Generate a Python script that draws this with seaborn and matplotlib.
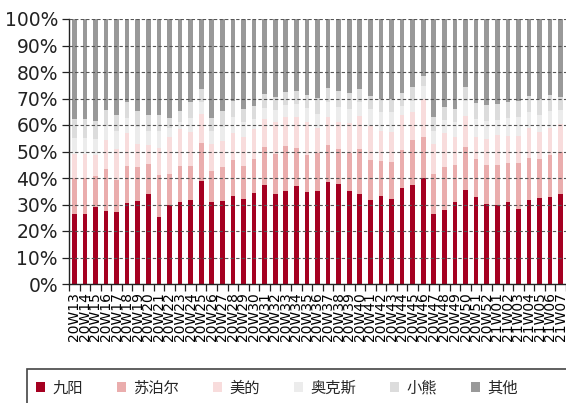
import numpy as np
import pandas as pd
import matplotlib
matplotlib.use("Agg")
import matplotlib.pyplot as plt
import seaborn as sns
from matplotlib.patches import Patch, Rectangle

# weekly labels
weeks = [f"20W{w}" for w in range(13, 53)] + [f"21W{w:02d}" for w in range(1, 8)]

# market share by brand (%), bottom to top
jiuyang = [26.5, 26.5, 29.1, 27.7, 27.3, 30.6, 31.3, 33.8, 25.2, 29.8,
           30.9, 31.7, 38.9, 30.9, 31.3, 33.1, 32.1, 34.2, 37.5, 33.8,
           35.2, 37.1, 34.8, 35.2, 38.5, 37.9, 35.2, 33.8, 31.7, 33.1,
           32.0, 36.4, 37.5, 39.9, 26.5, 28.0, 30.9, 35.6, 32.7, 30.2,
           29.8, 30.9, 28.4, 31.7, 32.3, 32.7, 33.8]
supor = [13.4, 13.4, 11.7, 15.6, 11.9, 14.0, 13.0, 11.6, 16.0, 11.8,
         13.7, 12.9, 14.4, 11.6, 13.0, 13.7, 12.5, 13.0, 14.3, 15.3,
         17.0, 14.1, 14.0, 14.3, 14.1, 13.0, 14.3, 17.1, 15.1, 13.3,
         14.0, 14.2, 17.0, 15.7, 15.1, 16.3, 14.1, 16.1, 14.5, 14.8,
         15.2, 14.9, 17.4, 16.0, 14.9, 16.1, 16.1]
midea = [9.2, 9.2, 7.8, 11.0, 11.9, 12.5, 8.5, 7.1, 10.2, 14.0,
         14.0, 12.9, 11.0, 10.3, 9.8, 10.3, 11.0, 11.3, 10.3, 12.0,
         10.9, 11.9, 12.2, 9.5, 10.5, 10.4, 11.1, 12.6, 12.9, 11.2,
         11.5, 13.2, 10.4, 14.2, 11.1, 12.8, 10.3, 11.8, 8.4, 9.8,
         11.2, 10.2, 10.0, 11.3, 10.3, 10.1, 10.6]
aux = [6.1, 6.1, 6.3, 5.4, 6.7, 5.5, 6.5, 5.3, 6.4, 3.2,
       2.7, 5.1, 4.3, 5.0, 5.2, 6.0, 5.4, 3.7, 4.5, 4.6,
       4.5, 4.8, 5.3, 5.1, 5.7, 5.5, 5.6, 5.1, 6.2, 7.2,
       7.3, 3.3, 4.3, 4.8, 5.0, 4.6, 5.7, 5.7, 6.6, 6.6,
       5.6, 6.6, 7.1, 5.8, 6.3, 6.4, 5.2]
bear = [6.9, 6.9, 6.5, 6.0, 6.0, 6.0, 6.0, 6.0, 6.0, 4.0,
        4.0, 6.0, 5.0, 5.0, 6.0, 6.0, 5.0, 5.0, 5.0, 5.0,
        5.0, 5.0, 5.0, 6.0, 5.0, 6.0, 6.0, 5.0, 5.0, 5.0,
        5.0, 5.0, 5.0, 4.0, 5.4, 5.0, 5.0, 5.0, 6.0, 6.0,
        6.0, 6.0, 6.0, 6.0, 6.0, 6.0, 5.0]
others = [37.9, 37.9, 38.6, 34.3, 36.2, 31.4, 34.7, 36.2, 36.2, 37.2,
          34.7, 31.4, 26.4, 37.2, 34.7, 30.9, 34.0, 32.8, 28.4, 29.3,
          27.4, 27.1, 28.7, 29.9, 26.2, 27.2, 27.8, 26.4, 29.1, 30.2,
          30.2, 27.9, 25.8, 21.4, 36.9, 33.3, 34.0, 25.8, 31.8, 32.6,
          32.2, 31.4, 31.1, 29.2, 30.2, 28.7, 29.3]

brands = ["九阳", "苏泊尔", "美的", "奥克斯", "小熊", "其他"]
colors = ["#a50021", "#eaadad", "#f8dcdc", "#ececec", "#dcdcdc", "#999999"]

df = pd.DataFrame({"week": weeks, "九阳": jiuyang, "苏泊尔": supor, "美的": midea,
                   "奥克斯": aux, "小熊": bear, "其他": others})
cum = df[brands].cumsum(axis=1)

sns.set_theme(style="white")
plt.rcParams["font.family"] = ["Noto Sans CJK SC", "DejaVu Sans"]

fig = plt.figure(figsize=(5.66, 4.03), dpi=100)
ax = fig.add_axes([69 / 566, 119 / 403, 1 - 69 / 566, 265 / 403])

# draw cumulative layers from top to bottom so they stack
for b, c in reversed(list(zip(brands, colors))):
    sns.barplot(x=df["week"], y=cum[b], color=c, width=0.44, saturation=1,
                ax=ax, linewidth=0)

ax.set_xlim(-0.5, 46.08)
ax.set_ylim(0, 100)
ax.set_yticks(np.arange(0, 101, 10))
ax.set_yticklabels([f"{v}%" for v in range(0, 101, 10)], fontsize=13.5,
                   family="DejaVu Sans", color="#222")
ax.set_xlabel("")
ax.set_ylabel("")
ax.set_xticks(range(len(weeks)))
ax.set_xticklabels(weeks, rotation=90, fontsize=10, family="DejaVu Sans",
                   color="black")
ax.set_xticks(np.arange(-0.5, len(weeks), 1), minor=True)
ax.tick_params(axis="x", which="major", length=0, pad=6)
ax.tick_params(axis="x", which="minor", length=5, width=0.9, color="#222",
               bottom=True)
ax.tick_params(axis="y", length=5, width=0.9, color="#222", left=True, pad=3)

ax.yaxis.grid(True, linestyle=(0, (3, 2)), color="#555555", linewidth=0.8)
ax.xaxis.grid(False)
ax.set_axisbelow(False)
for s in ["top", "right"]:
    ax.spines[s].set_visible(False)
for s in ["left", "bottom"]:
    ax.spines[s].set_color("#222")
    ax.spines[s].set_linewidth(1.0)

handles = [Patch(facecolor=c, edgecolor="none", label=b) for b, c in zip(brands, colors)]
fig.legend(handles=handles, loc="center", bbox_to_anchor=(277 / 566, 15 / 403),
           ncol=6, frameon=False, fontsize=11, handlelength=0.6, handleheight=0.6,
           handletextpad=0.5, columnspacing=2.2)

# frame around legend area
fig.add_artist(Rectangle((27 / 566, -0.2), 1.0, 0.2 + 34 / 403, transform=fig.transFigure,
                         fill=False, edgecolor="#444", linewidth=1.2))

fig.savefig("out.png", dpi=100)
